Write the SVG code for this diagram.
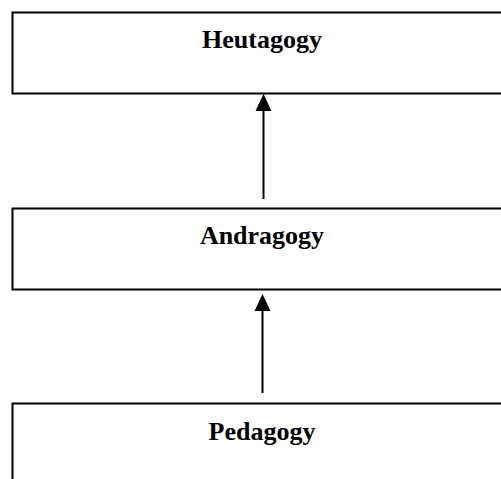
<svg xmlns="http://www.w3.org/2000/svg" width="501" height="479" viewBox="0 0 501 479">
<defs>
<style>
.box{fill:#fff;stroke:#000;stroke-width:2}
.lbl{font-family:"Liberation Serif","Times New Roman",serif;font-weight:bold;font-size:26px;fill:#000;text-anchor:middle}
.conn{stroke:#000;stroke-width:2;fill:none}
</style>
<marker id="ah" viewBox="0 0 16 17" refX="8" refY="0" markerWidth="16" markerHeight="17" markerUnits="userSpaceOnUse" orient="auto-start-reverse">
<path d="M0,17 L8,0 L16,17 Z" fill="#000"/>
</marker>
</defs>
<rect width="501" height="479" fill="#fff"/>
<g id="heutagogy"><rect class="box" x="12.5" y="12.5" width="520" height="81"/><text class="lbl" x="262" y="48">Heutagogy</text></g>
<g id="andragogy"><rect class="box" x="12.5" y="208.5" width="520" height="81"/><text class="lbl" x="262" y="244">Andragogy</text></g>
<g id="pedagogy"><rect class="box" x="12.5" y="403.5" width="520" height="120"/><text class="lbl" x="262" y="440">Pedagogy</text></g>
<g id="connectors">
<line class="conn" x1="263.5" y1="199" x2="263.5" y2="108"/>
<path d="M255.5,111 L263.5,94 L271.5,111 Z" fill="#000"/>
<line class="conn" x1="262.5" y1="393" x2="262.5" y2="308"/>
<path d="M254.5,311 L262.5,294 L270.5,311 Z" fill="#000"/>
</g>
</svg>
